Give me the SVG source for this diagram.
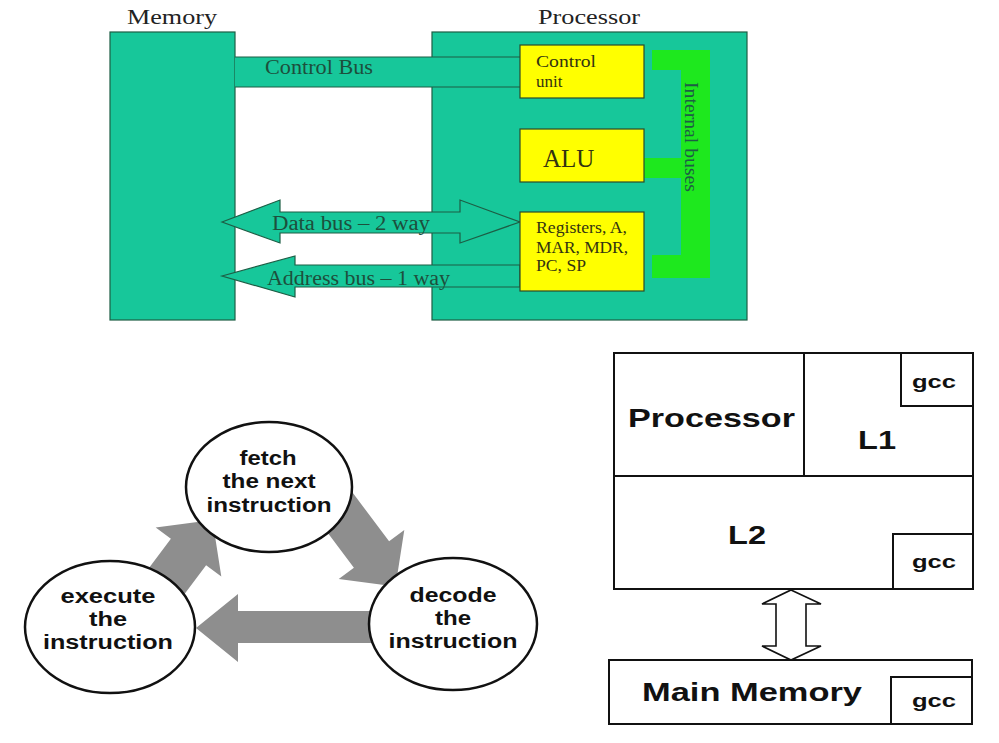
<svg xmlns="http://www.w3.org/2000/svg" width="999" height="743" viewBox="0 0 999 743">
<style>
.teal{fill:#17c79a;stroke:#1d5e45;stroke-width:1.2}
.tealnf{fill:#17c79a}
.edge{stroke:#1d5e45;stroke-width:1.2;fill:none}
.yel{fill:#ffff00;stroke:#2b4a2b;stroke-width:1.2}
.bus{fill:#1ee81e}
.serif{font-family:"Liberation Serif","Times New Roman",serif}
.lbl{font-size:22px;fill:#222}
.bustxt{font-size:20px;fill:#1d4f3c}
.box{font-size:17px;fill:#333311}
.cyc{fill:#8e8e8e}
.ell{fill:#fff;stroke:#111;stroke-width:2.5}
.sans{font-family:"Liberation Sans",Arial,sans-serif;font-weight:bold;fill:#111}
.ct{font-size:20px;text-anchor:middle}
.ln{fill:none;stroke:#111;stroke-width:2}
.big{font-size:26px}
.gcc{font-size:19px}
</style>

<!-- Top diagram -->
<g id="memory">
<rect class="teal" x="110" y="32" width="125" height="288"/>
<text class="serif lbl" x="127" y="24" textLength="90" lengthAdjust="spacingAndGlyphs">Memory</text>
</g>
<g id="processor">
<rect class="teal" x="432" y="32" width="315" height="288"/>
<text class="serif lbl" x="538" y="24" textLength="102" lengthAdjust="spacingAndGlyphs">Processor</text>
</g>

<g id="connectors">
<g id="control-bus">
<rect class="tealnf" x="235" y="57" width="285" height="30"/>
<line class="edge" x1="235" y1="57" x2="520" y2="57"/>
<line class="edge" x1="235" y1="87" x2="520" y2="87"/>
<text class="serif bustxt" x="265" y="74" font-size="19" textLength="108" lengthAdjust="spacingAndGlyphs">Control Bus</text>
</g>
<g id="data-bus">
<polygon class="teal" points="222,222 280,200 280,212 460,212 460,200 520,222 460,243 460,233 280,233 280,243"/>
<text class="serif bustxt" x="272" y="230" textLength="158" lengthAdjust="spacingAndGlyphs">Data bus – 2 way</text>
</g>
<g id="address-bus">
<polygon class="teal" points="222,276 295,256 295,265 520,265 520,287 295,287 295,297"/>
<text class="serif bustxt" x="267" y="285" textLength="183" lengthAdjust="spacingAndGlyphs">Address bus – 1 way</text>
</g>
<g id="internal-buses">
<rect class="bus" x="652" y="50" width="58" height="20"/>
<rect class="bus" x="681" y="50" width="29" height="228"/>
<rect class="bus" x="644" y="158" width="40" height="20"/>
<rect class="bus" x="652" y="255" width="58" height="23"/>
<text class="serif" font-size="19" fill="#1d5e45" text-anchor="middle" transform="translate(685,137) rotate(90)" textLength="110" lengthAdjust="spacingAndGlyphs">Internal buses</text>
</g>

<g id="cycle-arrows">
<polygon class="cyc" points="128.9,594.8 170.9,538.8 155.7,527.4 212.5,520 221.3,576.6 206.1,565.2 164.1,621.2"/>
<polygon class="cyc" points="305.9,503.7 353.9,567.7 338.7,579.1 395.5,586.5 404.3,529.9 389.1,541.3 341.1,477.3"/>
<polygon class="cyc" points="196,628 238,594 238,611 385,611 385,643 238,643 238,662"/>
</g>

<g id="mem-arrow">
<polygon fill="#fff" stroke="#111" stroke-width="1.6" points="791,590 821,604 806,604 806,646 821,646 791,660 762,646 776,646 776,604 762,604"/>
</g>
</g>

<g id="control-unit">
<rect class="yel" x="520" y="45" width="124" height="53"/>
<text class="serif box" x="536" y="67" textLength="60" lengthAdjust="spacingAndGlyphs">Control</text>
<text class="serif box" x="536" y="87">unit</text>
</g>
<g id="alu">
<rect class="yel" x="520" y="129" width="124" height="53"/>
<text class="serif" font-size="25" fill="#333311" x="543" y="167">ALU</text>
</g>
<g id="registers">
<rect class="yel" x="520" y="212" width="124" height="79"/>
<text class="serif" font-size="16" fill="#333311" x="536" y="233" textLength="91" lengthAdjust="spacingAndGlyphs">Registers, A,</text>
<text class="serif" font-size="16" fill="#333311" x="536" y="253" textLength="92" lengthAdjust="spacingAndGlyphs">MAR, MDR,</text>
<text class="serif" font-size="16" fill="#333311" x="536" y="271" textLength="50" lengthAdjust="spacingAndGlyphs">PC, SP</text>
</g>

<!-- Cycle diagram -->
<g id="fetch">
<ellipse class="ell" cx="269" cy="487" rx="83" ry="65"/>
<text class="sans ct" x="268" y="465" textLength="57" lengthAdjust="spacingAndGlyphs">fetch</text>
<text class="sans ct" x="269" y="488" textLength="93" lengthAdjust="spacingAndGlyphs">the next</text>
<text class="sans ct" x="269" y="512" textLength="125" lengthAdjust="spacingAndGlyphs">instruction</text>
</g>
<g id="execute">
<ellipse class="ell" cx="110" cy="627" rx="85" ry="66"/>
<text class="sans ct" x="108" y="603" textLength="95" lengthAdjust="spacingAndGlyphs">execute</text>
<text class="sans ct" x="108" y="626" textLength="38" lengthAdjust="spacingAndGlyphs">the</text>
<text class="sans ct" x="108" y="649" textLength="130" lengthAdjust="spacingAndGlyphs">instruction</text>
</g>
<g id="decode">
<ellipse class="ell" cx="453" cy="624" rx="84" ry="66"/>
<text class="sans ct" x="453" y="602" textLength="87" lengthAdjust="spacingAndGlyphs">decode</text>
<text class="sans ct" x="453" y="625" textLength="36" lengthAdjust="spacingAndGlyphs">the</text>
<text class="sans ct" x="453" y="648" textLength="129" lengthAdjust="spacingAndGlyphs">instruction</text>
</g>

<!-- Cache diagram -->
<g id="cache-block">
<rect class="ln" x="614" y="353" width="359" height="236"/>
<line class="ln" x1="804" y1="353" x2="804" y2="476"/>
<line class="ln" x1="614" y1="476" x2="973" y2="476"/>
</g>
<g id="processor-cell">
<text class="sans big" x="628" y="427" textLength="167" lengthAdjust="spacingAndGlyphs">Processor</text>
</g>
<g id="l1">
<text class="sans big" x="858" y="449" textLength="38" lengthAdjust="spacingAndGlyphs">L1</text>
</g>
<g id="gcc-l1">
<rect class="ln" x="901" y="353" width="72" height="53"/>
<text class="sans gcc" x="912" y="388" textLength="44" lengthAdjust="spacingAndGlyphs">gcc</text>
</g>
<g id="l2">
<text class="sans big" x="728" y="544" textLength="38" lengthAdjust="spacingAndGlyphs">L2</text>
</g>
<g id="gcc-l2">
<rect class="ln" x="893" y="534" width="80" height="55"/>
<text class="sans gcc" x="912" y="568" textLength="44" lengthAdjust="spacingAndGlyphs">gcc</text>
</g>
<g id="main-memory">
<rect class="ln" x="609" y="660" width="363" height="64"/>
<text class="sans" font-size="25" x="642" y="701" textLength="220" lengthAdjust="spacingAndGlyphs">Main Memory</text>
</g>
<g id="gcc-main">
<rect class="ln" x="891" y="677" width="81" height="47"/>
<text class="sans gcc" x="912" y="707" textLength="44" lengthAdjust="spacingAndGlyphs">gcc</text>
</g>
</svg>
